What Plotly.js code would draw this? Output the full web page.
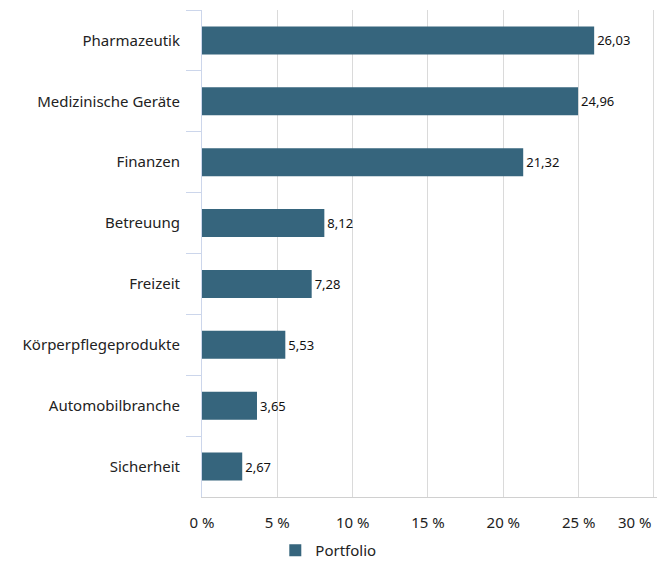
<!DOCTYPE html>
<html>
<head>
<meta charset="utf-8">
<script src="https://cdn.plot.ly/plotly-3.0.1.min.js"></script>
<style>html,body{margin:0;padding:0;background:#fff;}#chart{width:670px;height:563px;}</style>
</head>
<body>
<div id="chart"></div>
<script>
const categories = ["Pharmazeutik", "Medizinische Geräte", "Finanzen", "Betreuung", "Freizeit", "Körperpflegeprodukte", "Automobilbranche", "Sicherheit"];
const portfolio = [26.03, 24.96, 21.32, 8.12, 7.28, 5.53, 3.65, 2.67];
const tickValues = [0, 5, 10, 15, 20, 25, 30];
const tickLabels = ["0 %", "5 %", "10 %", "15 %", "20 %", "25 %", ""];
const lastTickValue = 30;
const lastTickLabel = "30 %";
const seriesName = "Portfolio";

const FONT = "'Noto Sans', 'Open Sans', sans-serif";

const trace = {
  type: "bar",
  orientation: "h",
  name: seriesName,
  x: portfolio,
  y: categories,
  width: 0.46,
  marker: {color: "#36657d"},
  texttemplate: "%{x:.2f}",
  textposition: "outside",
  cliponaxis: false,
  textfont: {family: FONT, size: 13, color: "#111"},
  hoverinfo: "none"
};

const layout = {
  width: 670,
  height: 563,
  margin: {l: 202, r: 13, t: 10, b: 66, autoexpand: false},
  paper_bgcolor: "#fff",
  plot_bgcolor: "#fff",
  separators: ",.",
  font: {family: FONT, size: 15, color: "#222"},
  showlegend: true,
  legend: {
    orientation: "h",
    xref: "container", yref: "container",
    x: 0.49, xanchor: "center",
    y: 0.022, yanchor: "middle",
    font: {size: 15, color: "#222"}
  },
  annotations: [{
    x: lastTickValue, xref: "x", xanchor: "right",
    y: 0, yref: "paper", yanchor: "middle", yshift: -25,
    text: lastTickLabel, showarrow: false,
    font: {family: FONT, size: 15, color: "#222"}
  }],
  xaxis: {
    range: [0, 30.2],
    tickvals: tickValues,
    ticktext: tickLabels,
    showgrid: true,
    gridcolor: "#dadada",
    gridwidth: 1,
    zeroline: false,
    showline: true,
    linecolor: "#d0d0d0",
    linewidth: 1,
    ticks: "",
    ticklabelstandoff: 12,
    fixedrange: true,
    tickfont: {size: 15, color: "#222"}
  },
  yaxis: {
    type: "category",
    autorange: "reversed",
    showline: true,
    linecolor: "#ccd6eb",
    linewidth: 1,
    ticks: "outside",
    tickson: "boundaries",
    ticklen: 15,
    tickcolor: "#ccd6eb",
    ticklabelstandoff: 18,
    showgrid: false,
    fixedrange: true,
    tickfont: {size: 15, color: "#222"}
  },
  bargap: 0.54
};

Plotly.newPlot("chart", [trace], layout, {displayModeBar: false, staticPlot: true});
</script>
</body>
</html>
